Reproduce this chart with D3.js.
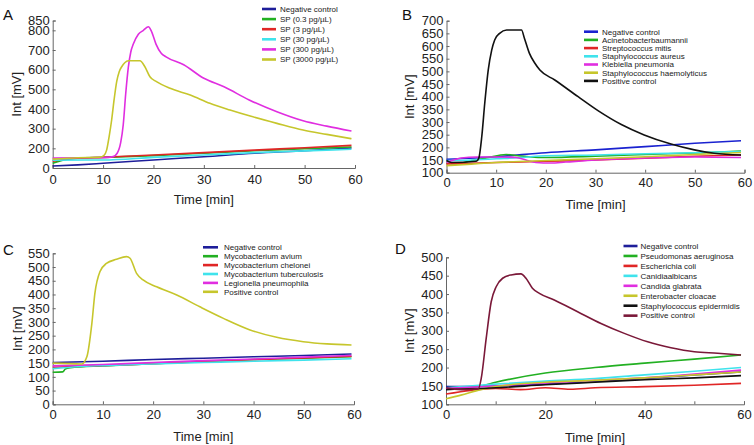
<!DOCTYPE html>
<html><head><meta charset="utf-8">
<script src="https://cdn.jsdelivr.net/npm/d3@7"></script>
<style>
html,body{margin:0;padding:0;background:#fff;}
svg{display:block;font-family:"Liberation Sans",Arial,Helvetica,sans-serif;}
</style></head>
<body>
<svg id="c" width="754" height="445"></svg>
<script>
// ---------- DATA ----------
const xTicks = [0,10,20,30,40,50,60];
const xTicksD = [0,20,40,60];

// Panel A
const aLegend = ["Negative control","SP (0.3 pg/\u00b5L)","SP (3 pg/\u00b5L)","SP (30 pg/\u00b5L)","SP (300 pg/\u00b5L)","SP (3000 pg/\u00b5L)"];
const aYTicks = [100,200,300,400,500,600,700,800,850];
const aYLabels = ["0","200","300","400","500","600","700","800","850"];
const aNeg = [[0,110],[5,116],[10,124],[20,141],[30,157],[40,175],[50,188],[59.3,202]];
const aSp03 = [[0,124],[2,140],[5,150],[10,154],[20,163],[30,175],[40,188],[50,198],[59.3,207]];
const aSp3 = [[0,135],[3,146],[5,150],[10,155],[20,166],[30,178],[40,191],[50,203],[59.3,215]];
const aSp30 = [[0,140],[10,141],[20,154],[30,166],[40,178],[50,187],[59.3,195]];
const aSp300 = [[0,150],[5,152],[10,153],[12,158],[12.8,175],[13.5,230],[14,320],[14.5,480],[15,610],[15.5,690],[16,730],[17,780],[18,800],[19,818],[19.6,795],[20.5,730],[21.5,685],[22.5,665],[26,625],[30,556],[34,513],[39,446],[44.5,386],[49.7,340],[54.4,313],[59.3,288]];
const aSp3000 = [[0,145],[5,152],[9.4,155],[10.2,165],[10.7,191],[11.2,260],[11.7,344],[12.2,450],[12.7,539],[13.2,590],[13.7,615],[14.3,635],[15,645],[17.3,645],[18.3,615],[19.3,564],[20.6,539],[23.3,505],[27.3,471],[31.2,429],[35.2,395],[39.2,364],[44.5,327],[49.7,293],[54.4,271],[59.3,249]];

// Panel B
const bLegend = ["Negative control","Acinetobacterbaumannii","Streptococcus mitis","Staphylococcus aureus","Klebiella pneumonia","Staphylococcus haemolyticus","Positive control"];
const bYTicks = [100,150,200,250,300,350,400,450,500,550,600,650,700];
const bNeg = [[0,153],[10,163],[20,179],[30,190],[40,203],[50,216],[59.3,226]];
const bAcin = [[0,137],[2,135],[5,148],[8,158],[12,172],[14,168],[17,162],[20,160],[30,165],[40,172],[50,178],[59.3,185]];
const bStrep = [[0,135],[10,140],[20,145],[30,150],[40,157],[50,165],[59.3,170]];
const bStaphA = [[0,148],[5,150],[10,155],[15,160],[20,167],[30,170],[40,175],[50,179],[59.3,183]];
const bKleb = [[0,140],[3,158],[6,162],[10,162],[14,160],[16,150],[18,140],[21,138],[24,142],[30,150],[40,158],[50,162],[59.3,160]];
const bStaphH = [[0,128],[5,134],[10,140],[20,148],[30,155],[40,163],[50,172],[59.3,180]];
const bPos = [[0,148],[1,140],[6,145],[6.5,157],[7.1,242],[7.7,374],[8.4,505],[9.1,584],[9.7,624],[10.7,650],[12.1,663],[15.1,663],[15.7,630],[16.7,571],[17.8,532],[18.8,505],[21.8,466],[26.5,400],[30.5,345],[35.2,290],[39.8,249],[45.2,213],[49.9,190],[53.9,177],[59.3,170]];

// Panel C
const cLegend = ["Negative control","Mycobacterium avium","Mycobacterium chelonei","Mycobacterium tuberculosis","Legionella pneumophila","Positive control"];
const cYTicks = [0,50,100,150,200,250,300,350,400,450,500,550];
const cNeg = [[0,152],[10,157],[20,163],[30,168],[40,173],[50,178],[59.5,183]];
const cAvium = [[0,117],[2,118],[2.5,128],[3.5,133],[10,140],[20,148],[30,156],[40,163],[50,168],[59.5,173]];
const cChel = [[0,135],[10,141],[20,148],[30,155],[40,162],[50,169],[59.5,175]];
const cTb = [[0,130],[5,137],[10,141],[20,147],[30,152],[40,157],[50,161],[59.5,166]];
const cLeg = [[0,140],[10,145],[20,152],[30,159],[40,165],[50,172],[59.5,178]];
const cPos = [[0,150],[5.8,147],[6.8,173],[7.8,295],[8.4,404],[9.4,483],[10.7,513],[12.7,528],[14.7,538],[15.4,532],[16.7,477],[18,453],[20.7,428],[24.7,398],[29.3,355],[34,313],[39.3,271],[44.6,244],[49.9,228],[54.6,220],[59.5,216]];

// Panel D
const dLegend = ["Negative control","Pseudomonas aeruginosa","Escherichia coli","Canidiaalbicans","Candida glabrata","Enterobacter cloacae","Staphylococcus epidermidis","Positive control"];
const dYTicks = [100,150,200,250,300,350,400,450,500];
const dNeg = [[0,148],[10,150],[20,155],[30,162],[40,170],[50,180],[59.4,188]];
const dPseudo = [[0,145],[7,150],[10,160],[20,185],[30,200],[40,212],[50,223],[59.4,234]];
const dEcoli = [[0,128],[5,138],[10,143],[15,140],[20,145],[25,141],[30,145],[40,148],[50,152],[59.4,157]];
const dCalb = [[0,145],[10,155],[20,163],[30,170],[40,180],[50,190],[59.4,200]];
const dCglab = [[0,143],[10,150],[20,158],[30,165],[40,172],[50,182],[59.4,193]];
const dEntero = [[0,115],[3,125],[7,140],[10,148],[20,160],[30,165],[40,172],[50,180],[59.4,188]];
const dStaph = [[0,140],[10,145],[20,153],[30,160],[40,167],[50,172],[59.4,178]];
const dPos = [[0,145],[3,140],[6.5,142],[7.1,171],[8.1,280],[9.1,379],[10.1,420],[11.4,443],[13.1,452],[15.1,455],[16.1,443],[17.4,416],[18.8,402],[21.8,384],[26.5,352],[31.2,320],[35.9,293],[40.6,270],[45.3,254],[50,243],[54.7,239],[59.4,234]];

// ---------- COLOURS ----------
const C = {navy:"#1e1e9a", blue:"#1a22d0", green:"#22b022", red:"#e02626", cyan:"#3fe3ec", magenta:"#e02ee0", olive:"#c6c62c", black:"#111111", maroon:"#7a1838"};

// ---------- LAYOUT ----------
const panels = [
  {letter:"A", lx:3, ly:20, x0:52.7, x1:355, yb:168, yt:20.5, dom:[100,850], yTicks:aYTicks, yLabels:aYLabels, xTicks:xTicks, xLabels:xTicks,
   series:[aNeg,aSp03,aSp3,aSp30,aSp300,aSp3000], colors:[C.navy,C.green,C.red,C.cyan,C.magenta,C.olive],
   legend:aLegend, legX:262, legX2:276, legTx:280, legY:9, legDy:10.1, yTitleX:16, xTitleY:204, xLabDy:16},
  {letter:"B", lx:402, ly:20, x0:446.5, x1:744.5, yb:172.7, yt:20.7, dom:[100,700], yTicks:bYTicks, yLabels:bYTicks, xTicks:xTicks, xLabels:xTicks,
   series:[bNeg,bAcin,bStrep,bStaphA,bKleb,bStaphH,bPos], colors:[C.blue,C.green,C.red,C.cyan,C.magenta,C.olive,C.black],
   legend:bLegend, legX:584, legX2:598, legTx:602, legY:31.7, legDy:8.2, yTitleX:409, xTitleY:209, xLabDy:14},
  {letter:"C", lx:3, ly:255, x0:52.7, x1:354, yb:404.3, yt:253.3, dom:[0,550], yTicks:cYTicks, yLabels:cYTicks, xTicks:xTicks, xLabels:xTicks,
   series:[cNeg,cAvium,cChel,cTb,cLeg,cPos], colors:[C.navy,C.green,C.red,C.cyan,C.magenta,C.olive],
   legend:cLegend, legX:203, legX2:218, legTx:224, legY:247.3, legDy:8.9, yTitleX:17, xTitleY:441, xLabDy:15},
  {letter:"D", lx:395, ly:253.5, x0:446, x1:744, yb:404.3, yt:257.3, dom:[100,500], yTicks:dYTicks, yLabels:dYTicks, xTicks:xTicks, xLabels:xTicksD,
   series:[dNeg,dPseudo,dEcoli,dCalb,dCglab,dEntero,dStaph,dPos], colors:[C.navy,C.green,C.red,C.cyan,C.magenta,C.olive,C.black,C.maroon],
   legend:dLegend, legX:623.5, legX2:637.5, legTx:640.5, legY:246, legDy:9.95, yTitleX:409, xTitleY:442, xLabDy:14.5}
];

const svg = d3.select("#c");
const axisCol = "#666";

panels.forEach(p => {
  const g = svg.append("g");
  const x = d3.scaleLinear().domain([0,60]).range([p.x0,p.x1]);
  const y = d3.scaleLinear().domain(p.dom).range([p.yb,p.yt]);

  // y axis
  const ya = d3.axisLeft(y).tickValues(p.yTicks).tickSize(-3).tickPadding(3)
     .tickFormat((d,i) => p.yLabels[i]);
  const yg = g.append("g").attr("transform",`translate(${p.x0},0)`).call(ya);
  yg.select(".domain").attr("stroke",axisCol);
  yg.selectAll(".tick line").attr("stroke",axisCol);
  yg.selectAll("text").attr("font-size",13).attr("fill","#222").attr("font-family","Liberation Sans, Arial, sans-serif");

  // x axis
  const xa = d3.axisBottom(x).tickValues(p.xTicks).tickSize(-3).tickPadding(0)
     .tickFormat(d => p.xLabels.includes(d) ? d : "");
  const xg = g.append("g").attr("transform",`translate(0,${p.yb})`).call(xa);
  xg.select(".domain").attr("stroke",axisCol);
  xg.selectAll(".tick line").attr("stroke",axisCol);
  xg.selectAll("text").attr("font-size",13).attr("fill","#222").attr("dy",null).attr("y",p.xLabDy)
     .attr("font-family","Liberation Sans, Arial, sans-serif");

  // titles
  g.append("text").attr("x",(p.x0+p.x1)/2).attr("y",p.xTitleY).attr("text-anchor","middle")
    .attr("font-size",13).attr("fill","#222").text("Time [min]");
  g.append("text").attr("transform",`translate(${p.yTitleX},${(p.yb+p.yt)/2}) rotate(-90)`)
    .attr("text-anchor","middle").attr("dy","0.35em").attr("font-size",13).attr("fill","#222").text("Int [mV]");
  g.append("text").attr("x",p.lx).attr("y",p.ly).attr("font-size",15).attr("fill","#111").text(p.letter);

  // lines
  const line = d3.line().x(d=>x(d[0])).y(d=>y(d[1])).curve(d3.curveMonotoneX);
  p.series.forEach((s,i) => {
    g.append("path").datum(s).attr("d",line).attr("fill","none")
     .attr("stroke",p.colors[i]).attr("stroke-width",1.6).attr("stroke-linejoin","round");
  });

  // legend
  p.legend.forEach((name,i) => {
    const yy = p.legY + i*p.legDy;
    g.append("line").attr("x1",p.legX).attr("x2",p.legX2).attr("y1",yy).attr("y2",yy)
      .attr("stroke",p.colors[i]).attr("stroke-width",2.6);
    g.append("text").attr("x",p.legTx).attr("y",yy).attr("dy","0.35em")
      .attr("font-size",8).attr("fill","#222").text(name);
  });
});
</script>
</body></html>
